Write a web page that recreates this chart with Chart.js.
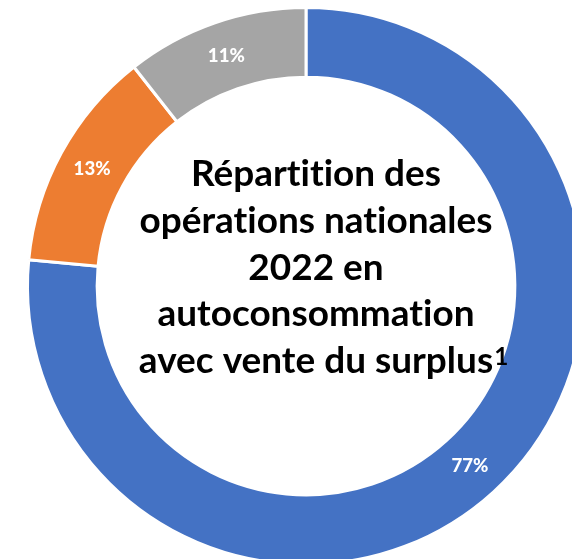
<!DOCTYPE html>
<html>
<head>
<meta charset="utf-8">
<script src="https://cdn.jsdelivr.net/npm/chart.js@4.4.1/dist/chart.umd.min.js"></script>
<style>
  html, body { margin: 0; padding: 0; background: #ffffff; overflow: hidden; width: 572px; height: 559px; }
  #wrap { position: absolute; left: 0; top: 0; width: 612px; height: 572px; }
</style>
</head>
<body>
<div id="wrap"><canvas id="c" width="612" height="572"></canvas></div>
<script>
const categories = ["Bleu", "Orange", "Gris"];
const values = [76.5, 12.9, 10.6];
const colors = ["#4472C4", "#ED7D31", "#A5A5A5"];
const titleLines = ["Répartition des", "opérations nationales", "2022 en", "autoconsommation", "avec vente du surplus"];
const titleSup = "1";

const FONT = "Lato, 'Open Sans', sans-serif";

function fitSize(ctx, weight, text, target) {
  ctx.font = weight + " 100px " + FONT;
  return 100 * target / ctx.measureText(text).width;
}

const labelPlugin = {
  id: 'labels',
  afterDatasetsDraw(chart) {
    const ctx = chart.ctx;
    const meta = chart.getDatasetMeta(0);
    const total = values.reduce((a, b) => a + b, 0);
    ctx.save();
    if ('letterSpacing' in ctx) ctx.letterSpacing = "0.01px";
    const ls = fitSize(ctx, "900", "11%", 37);
    ctx.fillStyle = "#ffffff";
    ctx.textAlign = "center";
    ctx.textBaseline = "middle";
    ctx.font = "900 " + ls + "px " + FONT;
    meta.data.forEach((arc, i) => {
      const p = arc.getCenterPoint();
      const pct = Math.round(values[i] / total * 100);
      ctx.fillText(pct + "%", p.x, p.y);
    });
    ctx.restore();

    // center title
    ctx.save();
    if ('letterSpacing' in ctx) ctx.letterSpacing = "0.01px";
    const ts = fitSize(ctx, "bold", "autoconsommation", 317);
    const cx = 316;
    const firstBase = 186, lastBase = 373;
    const step = (lastBase - firstBase) / (titleLines.length - 1);
    ctx.fillStyle = "#000000";
    ctx.textAlign = "center";
    ctx.textBaseline = "alphabetic";
    ctx.font = "bold " + ts + "px " + FONT;
    titleLines.forEach((t, i) => {
      ctx.fillText(t, cx, firstBase + i * step);
    });
    const lastW = ctx.measureText(titleLines[titleLines.length - 1]).width;
    ctx.textAlign = "left";
    ctx.font = "bold " + (ts * 0.66) + "px " + FONT;
    ctx.fillText(titleSup, cx + lastW / 2 + 1, lastBase - 8);
    ctx.restore();
  }
};

new Chart(document.getElementById('c'), {
  type: 'doughnut',
  data: {
    labels: categories,
    datasets: [{
      data: values,
      backgroundColor: colors,
      borderColor: "#ffffff",
      borderWidth: 3,
      hoverOffset: 0
    }]
  },
  options: {
    responsive: false,
    animation: false,
    cutout: '75%',
    layout: { padding: { top: 6, bottom: 6, left: 6, right: 6 } },
    plugins: { legend: { display: false }, tooltip: { enabled: false } },
    events: []
  },
  plugins: [labelPlugin]
});
</script>
</body>
</html>
